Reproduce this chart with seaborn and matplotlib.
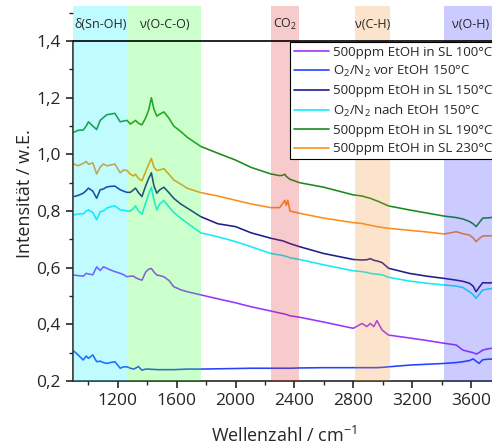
import matplotlib
matplotlib.use('Agg')
import matplotlib.pyplot as plt
import seaborn as sns
import pandas as pd
from matplotlib.ticker import MultipleLocator, FuncFormatter

# Wellenzahl (cm^-1), gemeinsam fuer alle Spektren
wn = [900, 930, 965, 985, 1000, 1030, 1056, 1080, 1102, 1125, 1150, 1180, 1216, 1240, 1262, 1285,
      1307, 1320, 1340, 1364, 1390, 1410, 1428, 1445, 1465, 1485, 1513, 1547, 1580, 1627, 1673, 1764,
      1880, 2000, 2106, 2240, 2300, 2320, 2335, 2345, 2355, 2370, 2436, 2600, 2800, 2860, 2893, 2916,
      2940, 2961, 2996, 3040, 3180, 3300, 3420, 3500, 3545, 3590, 3615, 3635, 3655, 3680, 3720, 3765]

sl_100 = [0.574, 0.572, 0.570, 0.580, 0.578, 0.575, 0.603, 0.590, 0.603, 0.598, 0.592, 0.586, 0.580, 0.575, 0.568, 0.570,
          0.570, 0.565, 0.560, 0.556, 0.585, 0.595, 0.597, 0.585, 0.574, 0.572, 0.568, 0.555, 0.533, 0.522, 0.515, 0.504,
          0.490, 0.476, 0.462, 0.447, 0.440, 0.438, 0.436, 0.435, 0.433, 0.430, 0.425, 0.408, 0.386, 0.403, 0.392, 0.403,
          0.392, 0.413, 0.380, 0.362, 0.352, 0.343, 0.333, 0.327, 0.309, 0.303, 0.300, 0.295, 0.300, 0.309, 0.314, 0.316]

vor_150 = [0.306, 0.292, 0.274, 0.288, 0.280, 0.292, 0.268, 0.270, 0.265, 0.262, 0.265, 0.268, 0.245, 0.250, 0.250, 0.245,
           0.242, 0.245, 0.251, 0.238, 0.242, 0.242, 0.241, 0.241, 0.240, 0.240, 0.240, 0.240, 0.240, 0.241, 0.242, 0.242,
           0.243, 0.244, 0.245, 0.245, 0.245, 0.245, 0.245, 0.245, 0.245, 0.245, 0.246, 0.247, 0.247, 0.247, 0.247, 0.247,
           0.247, 0.247, 0.248, 0.250, 0.256, 0.259, 0.262, 0.265, 0.268, 0.272, 0.278, 0.270, 0.262, 0.275, 0.277, 0.278]

sl_150 = [0.851, 0.855, 0.863, 0.872, 0.881, 0.870, 0.845, 0.875, 0.878, 0.885, 0.887, 0.888, 0.875, 0.870, 0.866, 0.866,
          0.875, 0.881, 0.865, 0.851, 0.890, 0.915, 0.935, 0.890, 0.863, 0.875, 0.884, 0.865, 0.845, 0.825, 0.810, 0.780,
          0.755, 0.745, 0.723, 0.704, 0.697, 0.695, 0.692, 0.690, 0.688, 0.685, 0.674, 0.650, 0.629, 0.627, 0.628, 0.632,
          0.626, 0.624, 0.618, 0.598, 0.580, 0.570, 0.562, 0.556, 0.552, 0.545, 0.535, 0.515, 0.530, 0.547, 0.546, 0.548]

nach_150 = [0.786, 0.790, 0.790, 0.800, 0.804, 0.795, 0.769, 0.798, 0.800, 0.810, 0.815, 0.818, 0.804, 0.803, 0.800, 0.800,
            0.810, 0.818, 0.800, 0.789, 0.830, 0.860, 0.884, 0.840, 0.804, 0.825, 0.837, 0.815, 0.795, 0.775, 0.757, 0.723,
            0.709, 0.692, 0.674, 0.650, 0.645, 0.643, 0.641, 0.640, 0.638, 0.635, 0.629, 0.610, 0.589, 0.586, 0.583, 0.580,
            0.578, 0.577, 0.575, 0.566, 0.553, 0.545, 0.539, 0.535, 0.530, 0.515, 0.505, 0.492, 0.505, 0.521, 0.525, 0.527]

sl_190 = [1.078, 1.085, 1.086, 1.100, 1.115, 1.100, 1.088, 1.120, 1.130, 1.140, 1.142, 1.145, 1.115, 1.118, 1.120, 1.107,
          1.115, 1.120, 1.110, 1.104, 1.130, 1.157, 1.200, 1.160, 1.135, 1.142, 1.150, 1.128, 1.100, 1.081, 1.060, 1.028,
          1.004, 0.980, 0.954, 0.931, 0.925, 0.926, 0.930, 0.922, 0.918, 0.912, 0.900, 0.884, 0.857, 0.853, 0.848, 0.845,
          0.840, 0.836, 0.828, 0.818, 0.804, 0.793, 0.782, 0.777, 0.772, 0.763, 0.755, 0.745, 0.758, 0.775, 0.776, 0.779]

sl_230 = [0.966, 0.960, 0.968, 0.975, 0.965, 0.970, 0.931, 0.955, 0.966, 0.960, 0.962, 0.966, 0.935, 0.945, 0.943, 0.930,
          0.924, 0.930, 0.915, 0.907, 0.940, 0.965, 0.986, 0.955, 0.943, 0.945, 0.950, 0.930, 0.910, 0.895, 0.880, 0.865,
          0.853, 0.838, 0.825, 0.812, 0.812, 0.826, 0.838, 0.820, 0.838, 0.800, 0.792, 0.775, 0.759, 0.756, 0.752, 0.750,
          0.747, 0.745, 0.742, 0.739, 0.732, 0.726, 0.719, 0.727, 0.720, 0.715, 0.705, 0.692, 0.702, 0.712, 0.712, 0.714]

labels = ['500ppm EtOH in SL 100°C', 'O$_2$/N$_2$ vor EtOH 150°C', '500ppm EtOH in SL 150°C',
          'O$_2$/N$_2$ nach EtOH 150°C', '500ppm EtOH in SL 190°C', '500ppm EtOH in SL 230°C']
colors = ['#9933ff', '#2244ff', '#1c1c8c', '#10ecf8', '#1a8a1a', '#ff8c1a']

# Banden: (von, bis, Beschriftung, Farbe)
bands = [(894, 1272, '\u03b4(Sn-OH)', '#00f0ff'),
         (1272, 1768, '\u03bd(O-C-O)', '#33ff33'),
         (2240, 2430, 'CO$_2$', '#e03030'),
         (2814, 3047, '\u03bd(C-H)', '#f59030'),
         (3420, 3770, '\u03bd(O-H)', '#3333ff')]

series = [sl_100, vor_150, sl_150, nach_150, sl_190, sl_230]
df = pd.concat([pd.DataFrame({'wn': wn, 'I': s, 'Probe': lab}) for s, lab in zip(series, labels)],
               ignore_index=True)

sns.set_style('ticks')
plt.rcParams['font.family'] = ['Open Sans', 'DejaVu Sans']
plt.rcParams['mathtext.fontset'] = 'custom'
plt.rcParams['mathtext.rm'] = 'Open Sans'

fig = plt.figure(figsize=(4.92, 4.48), dpi=100)
ax = fig.add_axes([0.148, 0.1496, 0.86, 0.8371])

sns.lineplot(data=df, x='wn', y='I', hue='Probe', palette=colors, sort=False,
             linewidth=1.15, ax=ax, zorder=2)

# Banden ueber den Linien (halbtransparent)
for lo, hi, txt, c in bands:
    ax.axvspan(lo, hi, color=c, alpha=0.25, lw=0, zorder=3)
    ax.text((lo + hi) / 2, 1.46, txt, ha='center', va='center', fontsize=9, zorder=4)

ax.axhline(1.4, color='black', lw=1.2, zorder=4)

ax.set_xlim(894, 3770)
ax.set_ylim(0.2, 1.524)
ax.spines['top'].set_visible(False)
ax.spines['right'].set_visible(False)
ax.spines['left'].set_bounds(0.2, 1.4)
ax.spines['left'].set_linewidth(1.2)
ax.spines['bottom'].set_linewidth(1.2)

ax.set_yticks([0.2, 0.4, 0.6, 0.8, 1.0, 1.2, 1.4])
ax.yaxis.set_minor_locator(MultipleLocator(0.1))
ax.set_xticks([1200, 1600, 2000, 2400, 2800, 3200, 3600])
ax.xaxis.set_minor_locator(MultipleLocator(200))
ax.yaxis.set_major_formatter(FuncFormatter(lambda v, p: f'{v:.1f}'.replace('.', ',')))
ax.tick_params(axis='both', which='major', length=5, width=1.2, labelsize=12.5, direction='out')
ax.tick_params(axis='both', which='minor', length=3, width=1.0, direction='out')

ax.set_xlabel('Wellenzahl / cm$^{-1}$', fontsize=13, labelpad=12)
ax.set_ylabel('Intensität / w.E.', fontsize=13, labelpad=2)

leg = ax.legend(loc='upper right', bbox_to_anchor=(1.0, 0.905), fontsize=9.5, frameon=True,
                fancybox=False, framealpha=1, edgecolor='black', handlelength=2.6,
                handletextpad=0.3, borderpad=0.3, labelspacing=0.4, borderaxespad=0)
leg.get_frame().set_linewidth(0.8)
leg.set_zorder(5)
for h in leg.get_lines():
    h.set_linewidth(1.2)

fig.savefig('out.png', dpi=100)
